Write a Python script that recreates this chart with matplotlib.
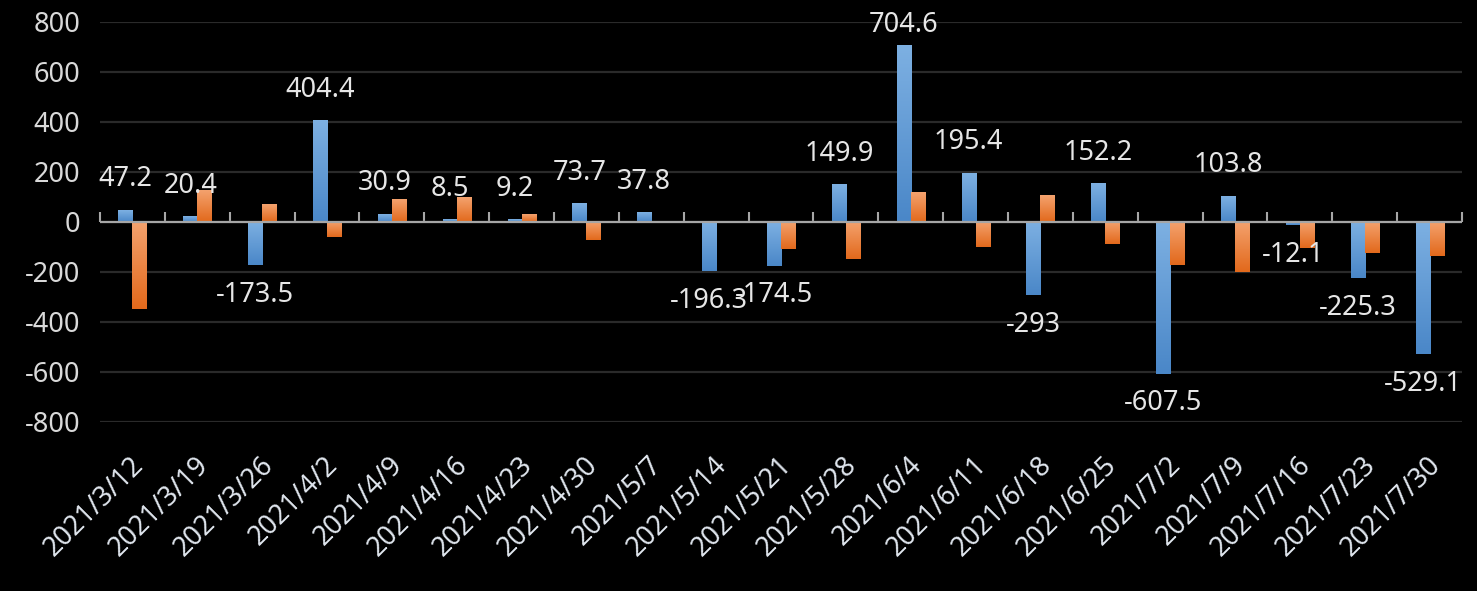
import numpy as np
import matplotlib
matplotlib.use("Agg")
import matplotlib.pyplot as plt
import matplotlib.transforms as mtransforms
from matplotlib.colors import LinearSegmentedColormap

# weekly values
dates = ["2021/3/12", "2021/3/19", "2021/3/26", "2021/4/2", "2021/4/9", "2021/4/16",
         "2021/4/23", "2021/4/30", "2021/5/7", "2021/5/14", "2021/5/21", "2021/5/28",
         "2021/6/4", "2021/6/11", "2021/6/18", "2021/6/25", "2021/7/2", "2021/7/9",
         "2021/7/16", "2021/7/23", "2021/7/30"]
blue_vals = [47.2, 20.4, -173.5, 404.4, 30.9, 8.5, 9.2, 73.7, 37.8, -196.3, -174.5,
             149.9, 704.6, 195.4, -293, 152.2, -607.5, 103.8, -12.1, -225.3, -529.1]
orange_vals = [-350, 127, 71, -61, 91, 99, 31, -73, 0, -2, -109,
               -149, 119, -101, 107, -89, -173, -201, -105, -125, -137]
y_ticks = [-800, -600, -400, -200, 0, 200, 400, 600, 800]

plt.rcParams['font.family'] = ['Noto Sans', 'DejaVu Sans']

fig = plt.figure(figsize=(14.77, 5.91), dpi=100, facecolor="black")
ax = fig.add_axes([100 / 1477, 1 - 422 / 591, 1362 / 1477, 400 / 591])
ax.set_facecolor("black")

x = np.arange(len(dates))
w = 0.216

blue_cmap = LinearSegmentedColormap.from_list("b", ["#7DB0E2", "#4A87C8"])
orange_cmap = LinearSegmentedColormap.from_list("o", ["#F4A26E", "#E2691C"])


def gradient_bars(xs, vals, cmap):
    bars = ax.bar(xs, vals, w, color="none", zorder=3, linewidth=0)
    grad = np.linspace(0, 1, 64).reshape(-1, 1)
    for b in bars:
        x0, y0 = b.get_x(), b.get_y()
        bw, bh = b.get_width(), b.get_height()
        if bh == 0:
            continue
        ylo, yhi = min(y0, y0 + bh), max(y0, y0 + bh)
        ax.imshow(grad, cmap=cmap, aspect="auto", origin="upper",
                  extent=[x0, x0 + bw, ylo, yhi], zorder=3)
    return bars


gradient_bars(x - w / 2, blue_vals, blue_cmap)
gradient_bars(x + w / 2, orange_vals, orange_cmap)

ax.set_xlim(-0.5, len(dates) - 0.5)
ax.set_ylim(-800, 800)
ax.set_aspect("auto")

# value labels above / below the blue bars
for xi, v in zip(x, blue_vals):
    if v >= 0:
        ly = min(v + 124, 790)
    else:
        ly = v - 118
    ax.text(xi - w / 2, ly, f"{v:g}", ha="center", va="center",
            fontsize=19.5, color="#E6E6E6", zorder=5)

# grid and axes
ax.set_yticks(y_ticks)
ax.set_yticklabels([str(t) for t in y_ticks])
ax.yaxis.grid(True, color="#2A2A2A", linewidth=1.6, zorder=0)
ax.tick_params(axis="y", length=0, pad=14, labelsize=19.5, labelcolor="#D9D9D9")
for s in ax.spines.values():
    s.set_visible(False)

ax.axhline(0, color="#A6A6A6", linewidth=1.6, zorder=4)
sec = ax.secondary_xaxis(0.5)
sec.set_xticks(np.arange(-0.5, len(dates)))
sec.tick_params(axis="x", length=7.5, width=1.5, color="#A6A6A6", labelbottom=False,
                direction="out")
sec.set_xticklabels([])
sec.spines["bottom"].set_visible(False)
for s in sec.spines.values():
    s.set_visible(False)

ax.set_xticks(x)
ax.set_xticklabels(dates, rotation=45, ha="right", va="center", rotation_mode="anchor")
ax.tick_params(axis="x", length=0, pad=28, labelsize=19.5, labelcolor="#E0E6EE")
shift = mtransforms.ScaledTranslation(7 / 100, 0, fig.dpi_scale_trans)
for lbl in ax.get_xticklabels():
    lbl.set_transform(lbl.get_transform() + shift)

fig.savefig("out.png", dpi=100, facecolor="black")
